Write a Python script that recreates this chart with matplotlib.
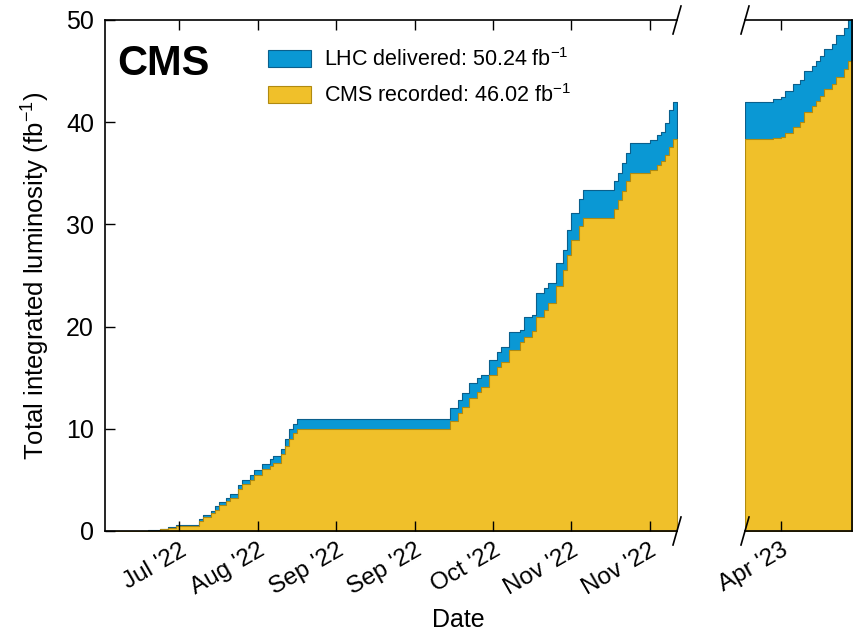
import numpy as np
import matplotlib
matplotlib.use("Agg")
import matplotlib.pyplot as plt
import matplotlib.dates as mdates
from matplotlib.patches import Patch

plt.rcParams['font.family'] = ['Liberation Sans', 'DejaVu Sans']
plt.rcParams['mathtext.fontset'] = 'custom'
plt.rcParams['mathtext.rm'] = 'Liberation Sans'
plt.rcParams['mathtext.it'] = 'Liberation Sans:italic'
plt.rcParams['mathtext.bf'] = 'Liberation Sans:bold'

# 2022 run (cumulative, fb^-1), value holds from its date onward
dates_2022 = ['2022-07-05', '2022-07-16', '2022-07-19', '2022-07-21', '2022-07-23',
              '2022-07-29', '2022-07-30', '2022-08-01', '2022-08-02', '2022-08-03',
              '2022-08-05', '2022-08-06', '2022-08-08', '2022-08-09', '2022-08-11',
              '2022-08-12', '2022-08-14', '2022-08-16', '2022-08-17', '2022-08-19',
              '2022-08-20', '2022-08-21', '2022-08-22', '2022-08-23', '2022-10-01',
              '2022-10-03', '2022-10-04', '2022-10-06', '2022-10-08', '2022-10-09',
              '2022-10-11', '2022-10-13', '2022-10-14', '2022-10-16', '2022-10-19',
              '2022-10-20', '2022-10-22', '2022-10-23', '2022-10-25', '2022-10-26',
              '2022-10-28', '2022-10-30', '2022-10-31', '2022-11-01', '2022-11-03',
              '2022-11-04', '2022-11-11', '2022-11-12', '2022-11-13', '2022-11-14',
              '2022-11-15', '2022-11-16', '2022-11-21', '2022-11-23', '2022-11-24',
              '2022-11-25', '2022-11-26', '2022-11-27', '2022-11-28']
delivered_2022 = [0.0, 0.05, 0.2, 0.4, 0.55,
                  1.2, 1.6, 2.0, 2.4, 2.8,
                  3.2, 3.6, 4.5, 5.0, 5.5,
                  6.0, 6.6, 7.0, 7.3, 8.0,
                  9.0, 10.0, 10.5, 11.0, 12.0,
                  12.8, 13.5, 14.5, 15.0, 15.3,
                  16.7, 17.5, 18.0, 19.5, 19.7,
                  20.9, 21.1, 23.3, 23.8, 24.3,
                  26.2, 27.5, 29.5, 31.1, 32.5,
                  33.4, 33.4, 34.2, 35.0, 36.0,
                  37.0, 38.0, 38.3, 38.7, 39.0,
                  39.9, 41.2, 42.0, 42.0]
recorded_2022 = [0.0, 0.03, 0.15, 0.3, 0.45,
                 1.0, 1.4, 1.8, 2.1, 2.5,
                 2.9, 3.2, 4.1, 4.6, 5.0,
                 5.5, 6.1, 6.4, 6.7, 7.5,
                 8.3, 9.0, 9.6, 10.0, 10.8,
                 11.5, 12.1, 13.0, 13.6, 14.1,
                 15.3, 16.0, 16.5, 17.7, 18.5,
                 19.0, 19.6, 20.9, 21.6, 22.3,
                 24.0, 25.5, 27.0, 28.5, 29.8,
                 30.6, 30.6, 31.5, 32.4, 33.3,
                 34.2, 35.0, 35.3, 35.8, 36.2,
                 36.8, 37.6, 38.4, 38.4]

# 2023 run
dates_2023 = ['2023-04-21', '2023-04-28', '2023-04-30', '2023-05-01', '2023-05-03',
              '2023-05-05', '2023-05-06', '2023-05-08', '2023-05-09', '2023-05-10',
              '2023-05-11', '2023-05-13', '2023-05-14', '2023-05-16', '2023-05-17',
              '2023-05-18']
delivered_2023 = [42.0, 42.3, 42.5, 43.1, 43.7,
                  44.1, 45.0, 45.5, 46.0, 46.5,
                  47.2, 47.7, 48.5, 49.2, 50.24,
                  50.24]
recorded_2023 = [38.4, 38.5, 38.6, 38.9, 39.5,
                 40.0, 41.0, 41.6, 42.1, 42.6,
                 43.2, 43.7, 44.4, 45.2, 46.02,
                 46.02]

ticks_2022 = ['2022-07-24', '2022-08-13', '2022-09-02', '2022-09-22',
              '2022-10-12', '2022-11-01', '2022-11-21']
ticks_2023 = ['2023-04-30']

blue = '#0a98d4'
blue_edge = '#0a5f8c'
yellow = '#f0c02a'
yellow_edge = '#b08a10'


def to_dt(d):
    return np.array(d, dtype='datetime64[D]').astype('datetime64[s]').astype(object)


fig = plt.figure(figsize=(8.59, 6.36), dpi=100)
ax1 = fig.add_axes([105/859, 1-531/636, 572/859, 511/636])
ax2 = fig.add_axes([745/859, 1-531/636, 107/859, 511/636])

for ax, d, dl, rc, tk in [(ax1, dates_2022, delivered_2022, recorded_2022, ticks_2022),
                          (ax2, dates_2023, delivered_2023, recorded_2023, ticks_2023)]:
    x = to_dt(d)
    ax.fill_between(x, 0, dl, step='post', facecolor=blue, edgecolor=blue_edge, lw=0.8)
    ax.fill_between(x, 0, rc, step='post', facecolor=yellow, edgecolor=yellow_edge, lw=0.8)
    ax.set_xlim(x[0], x[-1])
    ax.set_ylim(0, 50)
    ax.set_xticks(to_dt(tk))
    ax.xaxis.set_major_formatter(mdates.DateFormatter("%b '%y"))
    ax.tick_params(axis='x', direction='in', top=True, length=7, width=1,
                   labelsize=17.5, pad=6)
    for lab in ax.get_xticklabels():
        lab.set_rotation(30)
        lab.set_ha('right')
        lab.set_rotation_mode('anchor')
    for s in ax.spines.values():
        s.set_linewidth(1.2)

ax1.spines['right'].set_visible(False)
ax2.spines['left'].set_visible(False)
ax1.set_yticks([0, 10, 20, 30, 40, 50])
ax1.tick_params(axis='y', direction='in', length=7, width=1, labelsize=18, pad=8)
ax2.tick_params(axis='y', left=False, right=False, labelleft=False)
ax1.set_ylabel('Total integrated luminosity (fb$^{-1}$)', fontsize=18.5, labelpad=10)

# axis break marks
kw = dict(color='k', lw=1.2, clip_on=False)
dy = 14/511
for yy in (0, 1):
    ax1.plot([1-4/572, 1+4/572], [yy-dy, yy+dy], transform=ax1.transAxes, **kw)
    ax2.plot([-4/107, 4/107], [yy-dy, yy+dy], transform=ax2.transAxes, **kw)

ax1.text(0.021, 0.914, 'CMS', transform=ax1.transAxes, fontsize=30,
         fontweight='bold', va='center', ha='left')

handles = [Patch(facecolor=blue, edgecolor=blue_edge, lw=0.8),
           Patch(facecolor=yellow, edgecolor=yellow_edge, lw=0.8)]
labels = ['LHC delivered: 50.24 fb$^{-1}$', 'CMS recorded: 46.02 fb$^{-1}$']
ax1.legend(handles, labels, loc='upper left', bbox_to_anchor=(0.285, 0.945),
           frameon=False, fontsize=15.5, handlelength=2.0, handleheight=0.8,
           labelspacing=0.6, handletextpad=0.6, borderpad=0, borderaxespad=0)

fig.text(458/859, 1-620/636, 'Date', fontsize=18, ha='center', va='center')

fig.savefig('out.png', dpi=100)
